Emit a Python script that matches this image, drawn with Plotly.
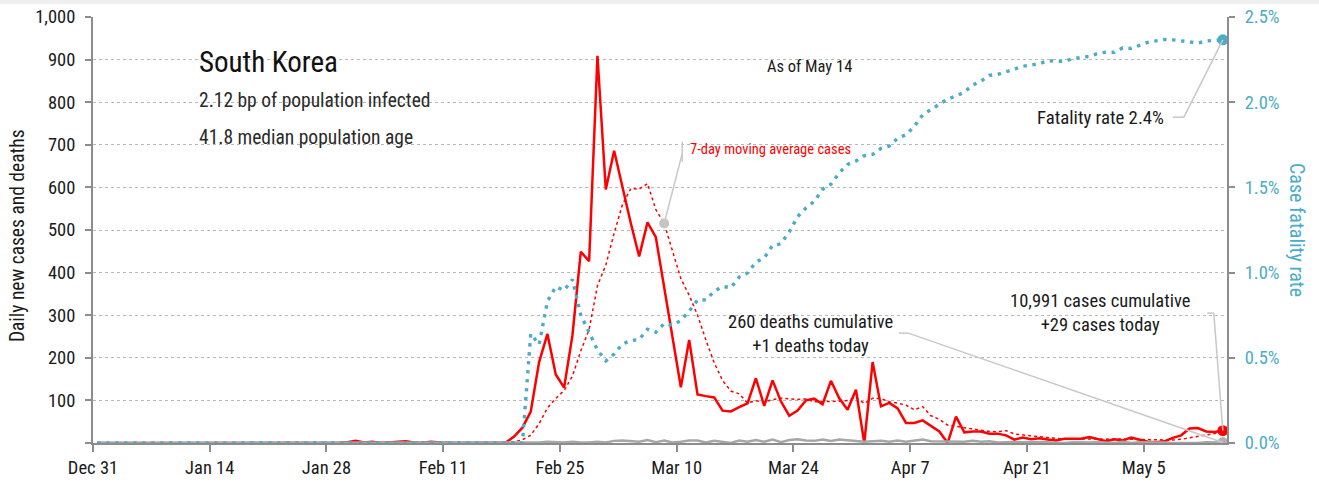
import pandas as pd
import plotly.graph_objects as go

# one point per day, Dec 31 2019 .. May 14 2020 (plotted at midday)
START = "2019-12-31 12:00"
END = "2020-05-14 12:00"
DATES = pd.date_range(START, END, freq="D")

# daily new cases
CASES = [
    0, 0, 0, 0, 0, 0, 0, 0, 0, 0,
    0, 0, 0, 0, 0, 0, 0, 0, 0, 0,
    1, 0, 0, 0, 1, 0, 1, 1, 0, 0,
    2, 5, 1, 3, 0, 1, 3, 4, 1, 0,
    3, 1, 0, 0, 0, 0, 0, 1, 1, 1,
    15, 36, 74, 190, 256, 161, 130, 253, 449, 427,
    909, 595, 686, 600, 516, 438, 518, 483, 367, 248,
    131, 242, 114, 110, 107, 76, 74, 84, 93, 152,
    87, 147, 98, 64, 76, 100, 104, 91, 146, 105,
    78, 125, 0, 190, 86, 94, 81, 47, 47, 53,
    39, 27, 0, 62, 25, 27, 27, 22, 22, 18,
    8, 13, 9, 11, 8, 6, 10, 10, 10, 14,
    9, 4, 9, 6, 13, 8, 3, 2, 4, 12,
    18, 34, 35, 27, 26, 29,
]

# 7-day moving average of cases
CASES_MA7 = [
    0, 0, 0, 0, 0, 0, 0, 0, 0, 0,
    0, 0, 0, 0, 0, 0, 0, 0, 0, 0,
    0.1, 0.1, 0.1, 0.1, 0.3, 0.3, 0.4, 0.4, 0.4, 0.4,
    0.7, 1.3, 1.4, 1.7, 1.6, 1.7, 2.1, 2.4, 1.9, 1.7,
    1.7, 1.9, 1.7, 1.3, 0.7, 0.6, 0.6, 0.3, 0.3, 0.4,
    2.6, 7.7, 18.3, 45.4, 81.9, 104.7, 123.1, 157.1, 216.1, 266.6,
    369.3, 417.7, 492.7, 559.9, 597.4, 595.9, 608.9, 548.0, 515.4, 452.9,
    385.9, 346.7, 300.4, 242.1, 188.4, 146.9, 122.0, 115.3, 94.0, 99.4,
    96.1, 101.9, 105.0, 103.6, 102.4, 103.4, 96.6, 97.1, 97.0, 98.0,
    100.0, 107.0, 92.7, 105.0, 104.3, 96.9, 93.4, 89.0, 77.9, 85.4,
    63.9, 55.4, 42.0, 39.3, 36.1, 33.3, 29.6, 27.1, 26.4, 29.0,
    21.3, 19.6, 17.0, 14.7, 12.7, 10.4, 9.3, 9.6, 9.1, 9.9,
    9.6, 9.0, 9.4, 8.9, 9.3, 9.0, 7.4, 6.4, 6.4, 6.9,
    8.6, 11.6, 15.4, 18.9, 22.3, 25.9,
]

# daily new deaths
DEATHS = [
    0, 0, 0, 0, 0, 0, 0, 0, 0, 0,
    0, 0, 0, 0, 0, 0, 0, 0, 0, 0,
    0, 0, 0, 0, 0, 0, 0, 0, 0, 0,
    0, 0, 0, 0, 0, 0, 0, 0, 0, 0,
    0, 0, 0, 0, 0, 0, 0, 0, 0, 0,
    0, 0, 1, 1, 3, 2, 1, 3, 1, 1,
    3, 1, 5, 6, 4, 3, 7, 2, 6, 1,
    3, 6, 6, 1, 5, 3, 0, 6, 3, 7,
    3, 8, 2, 7, 9, 6, 5, 8, 5, 8,
    6, 4, 3, 4, 5, 3, 6, 3, 6, 8,
    4, 4, 3, 3, 3, 5, 3, 4, 1, 2,
    2, 2, 1, 1, 2, 0, 0, 2, 1, 1,
    2, 1, 0, 3, 0, 2, 2, 1, 1, 0,
    0, 0, 0, 2, 1, 1,
]

# case fatality rate, percent
FATALITY_RATE = [
    0, 0, 0, 0, 0, 0, 0, 0, 0, 0,
    0, 0, 0, 0, 0, 0, 0, 0, 0, 0,
    0, 0, 0, 0, 0, 0, 0, 0, 0, 0,
    0, 0, 0, 0, 0, 0, 0, 0, 0, 0,
    0, 0, 0, 0, 0, 0, 0, 0, 0, 0,
    0, 0, 0.641, 0.578, 0.831, 0.917, 0.896, 0.960, 0.752, 0.643,
    0.546, 0.482, 0.522, 0.582, 0.601, 0.607, 0.668, 0.650, 0.701, 0.691,
    0.719, 0.774, 0.839, 0.840, 0.890, 0.919, 0.911, 0.974, 0.998, 1.062,
    1.086, 1.159, 1.169, 1.239, 1.328, 1.379, 1.418, 1.489, 1.519, 1.586,
    1.635, 1.655, 1.686, 1.694, 1.729, 1.743, 1.788, 1.809, 1.858, 1.926,
    1.957, 1.990, 2.019, 2.036, 2.059, 2.101, 2.124, 2.158, 2.163, 2.178,
    2.195, 2.211, 2.218, 2.226, 2.243, 2.241, 2.239, 2.256, 2.263, 2.269,
    2.286, 2.294, 2.293, 2.319, 2.316, 2.333, 2.351, 2.360, 2.368, 2.366,
    2.362, 2.354, 2.347, 2.359, 2.363, 2.366,
]

TICK_DATES = ["2019-12-31", "2020-01-14", "2020-01-28", "2020-02-11", "2020-02-25",
              "2020-03-10", "2020-03-24", "2020-04-07", "2020-04-21", "2020-05-05"]
TICK_LABELS = ["Dec 31", "Jan 14", "Jan 28", "Feb 11", "Feb 25",
               "Mar 10", "Mar 24", "Apr 7", "Apr 21", "May 5"]
Y_TICKS = [0, 100, 200, 300, 400, 500, 600, 700, 800, 900, 1000]
Y_LABELS = ["", "100", "200", "300", "400", "500", "600", "700", "800", "900", "1,000"]
Y2_TICKS = [0, 0.5, 1.0, 1.5, 2.0, 2.5]
Y2_LABELS = ["0.0%", "0.5%", "1.0%", "1.5%", "2.0%", "2.5%"]

TOTAL_CASES = "10,991"
TOTAL_DEATHS = "260"

FONT = "Roboto Condensed, Liberation Sans Narrow, sans-serif"
RED = "#ff0000"
CYAN = "#4bacc6"
GREY = "#a6a6a6"
AXIS = "#8c8c8c"
TEXT = "#1a1a1a"

fig = go.Figure()

# fatality rate on the right axis
fig.add_trace(go.Scatter(x=DATES, y=FATALITY_RATE, yaxis="y2", mode="lines",
                         line=dict(color=CYAN, width=3.4, dash="3.4px,5.6px")))
fig.add_trace(go.Scatter(x=[DATES[-1]], y=[FATALITY_RATE[-1]], yaxis="y2", mode="markers",
                         marker=dict(color=CYAN, size=11)))

# cases, moving average, deaths
fig.add_trace(go.Scatter(x=DATES, y=CASES_MA7, mode="lines",
                         line=dict(color=RED, width=1.5, dash="dot")))
fig.add_trace(go.Scatter(x=DATES, y=CASES, mode="lines",
                         line=dict(color=RED, width=2.5)))
fig.add_trace(go.Scatter(x=DATES, y=DEATHS, mode="lines",
                         line=dict(color=GREY, width=2.5)))

# end-point and callout markers
fig.add_trace(go.Scatter(x=[DATES[68]], y=[CASES_MA7[68]], mode="markers",
                         marker=dict(color="#c4c4c4", size=10)))
fig.add_trace(go.Scatter(x=[DATES[-1]], y=[CASES[-1]], mode="markers",
                         marker=dict(color=RED, size=11)))
fig.add_trace(go.Scatter(x=[DATES[-1]], y=[DEATHS[-1]], mode="markers",
                         marker=dict(color="#b0b0b0", size=11)))

# callout leader lines
LEAD = dict(color="#c8c8c8", width=1.5)
shapes = [
    # 7-day average
    dict(type="line", xref="x", yref="y", x0=DATES[68], y0=CASES_MA7[68],
         x1="2020-03-10 16:00", y1=680, line=LEAD),
    dict(type="line", xref="x", yref="y", x0="2020-03-10 16:00", y0=660,
         x1="2020-03-10 16:00", y1=707, line=LEAD),
    # fatality rate
    dict(type="line", xref="x", yref="y2", x0=DATES[-1], y0=FATALITY_RATE[-1],
         x1="2020-05-09 20:00", y1=1.912, line=LEAD),
    dict(type="line", xref="x", yref="y2", x0="2020-05-09 20:00", y0=1.912,
         x1="2020-05-08 12:00", y1=1.912, line=LEAD),
    # deaths
    dict(type="line", xref="x", yref="y", x0=DATES[-1], y0=DEATHS[-1],
         x1="2020-04-06 19:00", y1=258, line=LEAD),
    dict(type="line", xref="x", yref="y", x0="2020-04-06 19:00", y0=258,
         x1="2020-04-05 15:00", y1=258, line=LEAD),
    # cases
    dict(type="line", xref="x", yref="y", x0=DATES[-1], y0=CASES[-1],
         x1="2020-05-13 10:00", y1=305, line=LEAD),
    dict(type="line", xref="x", yref="y", x0="2020-05-13 10:00", y0=305,
         x1="2020-05-12 15:00", y1=305, line=LEAD),
    # grey strip along the top of the page
    dict(type="rect", xref="paper", yref="paper", x0=-0.09, x1=1.09, y0=1.0305, y1=1.045,
         fillcolor="#f0f0f0", line=dict(width=0), layer="below"),
]

annotations = [
    dict(text="South Korea", x=0.0917, y=0.894, xanchor="left", yanchor="middle",
         font=dict(size=29, color="#111")),
    dict(text="2.12 bp of population infected", x=0.0917, y=0.803, xanchor="left",
         yanchor="middle", font=dict(size=19.5, color="#2a2a2a")),
    dict(text="41.8 median population age", x=0.0917, y=0.718, xanchor="left",
         yanchor="middle", font=dict(size=19.5, color="#2a2a2a")),
    dict(text="As of May 14", x=0.632, y=0.883, xanchor="center", yanchor="middle",
         font=dict(size=16.5, color=TEXT)),
    dict(text="7-day moving average cases", x=0.5247, y=0.688, xanchor="left",
         yanchor="middle", font=dict(size=14.5, color=RED)),
    dict(text="Fatality rate 2.4%", x=0.946, y=0.763, xanchor="right", yanchor="middle",
         font=dict(size=18.8, color=TEXT)),
    dict(text=TOTAL_DEATHS + " deaths cumulative<br>+" + str(DEATHS[-1]) + " deaths today",
         x=0.633, y=0.255, xanchor="center", yanchor="middle",
         font=dict(size=18.5, color=TEXT)),
    dict(text=TOTAL_CASES + " cases cumulative<br>+" + str(CASES[-1]) + " cases today",
         x=0.888, y=0.305, xanchor="center", yanchor="middle",
         font=dict(size=18.5, color=TEXT)),
    dict(text="Daily new cases and deaths", x=-0.066, y=0.486, textangle=-90,
         xanchor="center", yanchor="middle", font=dict(size=19.5, color=TEXT)),
    dict(text="Case fatality rate", x=1.0617, y=0.50, textangle=90,
         xanchor="center", yanchor="middle", font=dict(size=20, color=CYAN)),
]
for a in annotations:
    a.update(xref="paper", yref="paper", showarrow=False)

fig.update_layout(
    width=1319, height=484,
    margin=dict(l=93, r=92, t=17, b=41, autoexpand=False),
    plot_bgcolor="white", paper_bgcolor="white",
    showlegend=False,
    font=dict(family=FONT, size=18, color=TEXT),
    shapes=shapes,
    annotations=annotations,
    xaxis=dict(
        type="date", range=["2019-12-31", "2020-05-15"],
        tickvals=TICK_DATES, ticktext=TICK_LABELS,
        showline=True, linecolor=AXIS, linewidth=2,
        ticks="outside", ticklen=7, tickwidth=2, tickcolor=AXIS,
        showgrid=False, zeroline=False, automargin=False,
        tickfont=dict(size=18.5, color=TEXT),
    ),
    yaxis=dict(
        range=[0, 1000], tickvals=Y_TICKS, ticktext=Y_LABELS,
        showline=True, linecolor=AXIS, linewidth=2,
        ticks="outside", ticklen=6, tickwidth=2, tickcolor=AXIS,
        showgrid=True, gridcolor="#b8b8b8", griddash="dot", gridwidth=1,
        zeroline=False, ticklabelstandoff=6, automargin=False,
        tickfont=dict(size=18.5, color=TEXT),
    ),
    yaxis2=dict(
        range=[0, 2.5], tickvals=Y2_TICKS, ticktext=Y2_LABELS,
        overlaying="y", side="right",
        showline=True, linecolor=AXIS, linewidth=2,
        ticks="outside", ticklen=6, tickwidth=2, tickcolor=AXIS,
        showgrid=False, zeroline=False, ticklabelstandoff=6, automargin=False,
        tickfont=dict(size=18.5, color=CYAN),
    ),
)

fig.write_html("out.html", config={"displayModeBar": False},
               post_script="document.body.style.margin = '0px';")
